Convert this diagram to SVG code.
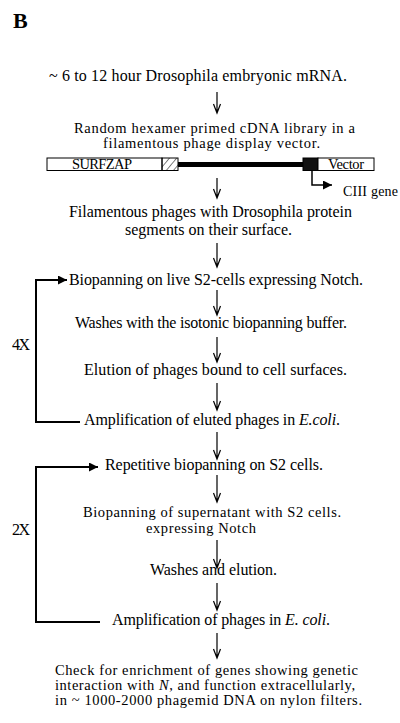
<svg xmlns="http://www.w3.org/2000/svg" width="400" height="723" viewBox="0 0 400 723">
<defs>
<style>
text{font-family:"Liberation Serif","Times New Roman",serif;font-size:16px;fill:#000}
.tight{font-size:14.5px}
.it{font-style:italic}
.down{stroke:#000;stroke-width:1.2;fill:none}
.loop{stroke:#000;stroke-width:2;fill:none}
</style>
<marker id="tri" viewBox="0 0 10 10" refX="10" refY="5" markerWidth="12" markerHeight="9" markerUnits="userSpaceOnUse" orient="auto">
<path d="M0,0 L10,5 L0,10 Z" fill="#000"/>
</marker>
<pattern id="hatch" patternUnits="userSpaceOnUse" width="5.5" height="5.5" patternTransform="rotate(40)">
<line x1="0" y1="0" x2="0" y2="5.5" stroke="#000" stroke-width="1"/>
</pattern>
</defs>

<text x="13" y="28" style="font-size:22px;font-weight:bold">B</text>

<g id="connectors">
<g class="down">
<path d="M217,92 V113 M213.5,104 L217,113 L220.5,104"/>
<path d="M217,178 V198 M213.5,189 L217,198 L220.5,189"/>
<path d="M217,243 V267 M213.5,258 L217,267 L220.5,258"/>
<path d="M217,290 V315 M213.5,306 L217,315 L220.5,306"/>
<path d="M217,337 V362 M213.5,353 L217,362 L220.5,353"/>
<path d="M217,383 V410 M213.5,401 L217,410 L220.5,401"/>
<path d="M217,432 V459 M213.5,450 L217,459 L220.5,450"/>
<path d="M217,475 V502 M213.5,493 L217,502 L220.5,493"/>
<path d="M217,540 V568 M213.5,559 L217,568 L220.5,559"/>
<path d="M217,583 V610 M213.5,601 L217,610 L220.5,601"/>
<path d="M217,633 V658 M213.5,649 L217,658 L220.5,649"/>
</g>
<path class="loop" d="M80,422 H36 V280 H67" marker-end="url(#tri)"/>
<path class="loop" d="M100,622 H36 V467 H98" marker-end="url(#tri)"/>
<path d="M312,170 V185 H332" stroke="#000" stroke-width="1.5" fill="none" marker-end="url(#tri)"/>
</g>

<g id="n1"><text x="49" y="81" textLength="298">~ 6 to 12 hour  Drosophila embryonic mRNA.</text></g>

<g id="n2">
<text class="tight" x="74" y="133" textLength="281">Random hexamer primed cDNA library in a</text>
<text class="tight" x="103" y="148" textLength="217">filamentous phage display vector.</text>
</g>

<g id="vector">
<rect x="47" y="158" width="115" height="12.5" fill="#fff" stroke="#000" stroke-width="1"/>
<text x="72" y="169" style="font-size:14.5px" textLength="60">SURFZAP</text>
<rect x="162" y="158" width="16" height="12.5" fill="url(#hatch)" stroke="#000" stroke-width="1"/>
<rect x="178" y="162" width="125" height="5" fill="#000"/>
<rect x="303" y="158" width="15" height="12.5" fill="#111" stroke="#000" stroke-width="1"/>
<rect x="318" y="158" width="56" height="12.5" fill="#fff" stroke="#000" stroke-width="1"/>
<text x="328" y="169" style="font-size:14.5px" textLength="36">Vector</text>
</g>

<g id="ciii"><text x="343" y="196" style="font-size:14px" textLength="55">CIII gene</text></g>

<g id="n3">
<text x="69" y="217" textLength="283">Filamentous phages with Drosophila protein</text>
<text x="125" y="235" textLength="167">segments on their surface.</text>
</g>

<g id="n4"><text x="69" y="285" textLength="294">Biopanning on live S2-cells expressing Notch.</text></g>
<g id="n5"><text x="75" y="328" textLength="272">Washes with the isotonic biopanning buffer.</text></g>
<g id="n6"><text x="84" y="375" textLength="263">Elution of  phages bound to cell surfaces.</text></g>
<g id="n7"><text x="84" y="425" textLength="256">Amplification of eluted phages in <tspan class="it">E.coli</tspan>.</text></g>
<g id="l4x"><text x="12" y="350" textLength="18">4X</text></g>

<g id="n8"><text x="105" y="470" textLength="218">Repetitive biopanning on S2 cells.</text></g>
<g id="n9">
<text class="tight" x="83" y="517" textLength="258">Biopanning of supernatant with S2 cells.</text>
<text class="tight" x="146" y="533" textLength="110">expressing Notch</text>
</g>
<g id="n10"><text x="150" y="575" textLength="127">Washes and elution.</text></g>
<g id="l2x"><text x="12" y="535" textLength="18">2X</text></g>
<g id="n11"><text x="112" y="625" textLength="218">Amplification of phages in <tspan class="it">E. coli</tspan>.</text></g>

<g id="n12">
<text class="tight" x="55" y="675" textLength="303">Check for enrichment of genes showing genetic</text>
<text class="tight" x="55" y="690" textLength="300">interaction with <tspan class="it">N</tspan>, and function extracellularly,</text>
<text class="tight" x="55" y="705" textLength="307">in ~ 1000-2000 phagemid DNA on nylon filters.</text>
</g>
</svg>
